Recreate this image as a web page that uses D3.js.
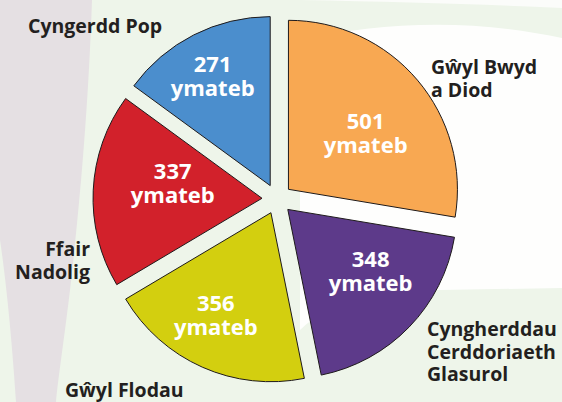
<!DOCTYPE html>
<html>
<head>
<meta charset="utf-8">
<script src="https://cdn.jsdelivr.net/npm/d3@7"></script>
<style>
  html, body { margin: 0; padding: 0; background: #eef5ea; }
  svg { display: block; }
</style>
</head>
<body>
<svg id="chart" width="562" height="402"></svg>
<script>
// ---- data ----
const categories = ["Gŵyl Bwyd a Diod", "Cyngherddau Cerddoriaeth Glasurol", "Gŵyl Flodau", "Ffair Nadolig", "Cyngerdd Pop"];
const categoryLines = [["Gŵyl Bwyd", "a Diod"], ["Cyngherddau", "Cerddoriaeth", "Glasurol"], ["Gŵyl Flodau"], ["Ffair", "Nadolig"], ["Cyngerdd Pop"]];
const values = [501, 348, 356, 337, 271];
const unitLabel = "ymateb";
const colors = ["#f8a852", "#5d3a8a", "#d3cf0f", "#d2212b", "#4b8ecd"];

// ---- layout ----
const W = 562, H = 402;
const cx = 277, cy = 199, R = 169, explode = 15;
// inner label placement: [angle tweak (deg), radius fraction]
const innerLabelLayout = [[8, 0.54], [-4, 0.64], [2.6, 0.73], [1.7, 0.53], [-2.7, 0.69]];
// outer label placement: [x, first baseline, anchor]
const outerLabelLayout = [[431, 74, "start"], [427, 336, "start"], [65, 397, "start"], [90, 256, "end"], [28, 33, "start"]];

const svg = d3.select("#chart");

// background decoration
svg.append("rect").attr("width", W).attr("height", H).attr("fill", "#eef5ea");
svg.append("path")
  .attr("d", "M300,40 C380,22 470,18 562,38 L562,288 L440,290 C380,292 330,300 300,330 Z")
  .attr("fill", "#ffffff").attr("opacity", 0.9);
svg.append("path")
  .attr("d", "M300,0 C400,2 480,4 562,8 L562,0 Z")
  .attr("fill", "#fbfcfa");
svg.append("path")
  .attr("d", "M0,0 L92,0 C88,120 78,220 70,290 C64,340 58,380 56,402 L16,402 C12,340 6,280 0,240 Z")
  .attr("fill", "#e5e0e3");

const pie = d3.pie().sort(null).value(d => d)(values);
const arc = d3.arc().innerRadius(0).outerRadius(R);

const g = svg.append("g").attr("transform", `translate(${cx},${cy})`);

const slices = g.selectAll("g.slice").data(pie).enter().append("g")
  .attr("class", "slice")
  .attr("transform", d => {
    const m = (d.startAngle + d.endAngle) / 2;
    return `translate(${explode * Math.sin(m)},${-explode * Math.cos(m)})`;
  });

slices.append("path")
  .attr("d", arc)
  .attr("fill", (d, i) => colors[i])
  .attr("stroke", "#1e1a1b")
  .attr("stroke-width", 1)
  .attr("stroke-linejoin", "miter");

slices.each(function(d, i) {
  const m = (d.startAngle + d.endAngle) / 2 + innerLabelLayout[i][0] * Math.PI / 180;
  const r = R * innerLabelLayout[i][1];
  const x = r * Math.sin(m), y = -r * Math.cos(m);
  const t = d3.select(this).append("text")
    .attr("text-anchor", "middle")
    .attr("fill", "#ffffff")
    .attr("font-family", "'Open Sans', 'DejaVu Sans', sans-serif")
    .attr("font-weight", "bold")
    .attr("font-size", 22);
  t.append("tspan").attr("x", x).attr("y", y - 12).text(d.data);
  t.append("tspan").attr("x", x).attr("y", y + 12).text(unitLabel);
});

// outer category labels
categoryLines.forEach((lines, i) => {
  const [x, y0, anchor] = outerLabelLayout[i];
  const t = svg.append("text")
    .attr("text-anchor", anchor)
    .attr("fill", "#231f20")
    .attr("font-family", "'Open Sans', 'DejaVu Sans', sans-serif")
    .attr("font-weight", "bold")
    .attr("font-size", 19.5);
  lines.forEach((ln, j) => {
    t.append("tspan").attr("x", x).attr("y", y0 + j * 22.5).text(ln);
  });
});
</script>
</body>
</html>
